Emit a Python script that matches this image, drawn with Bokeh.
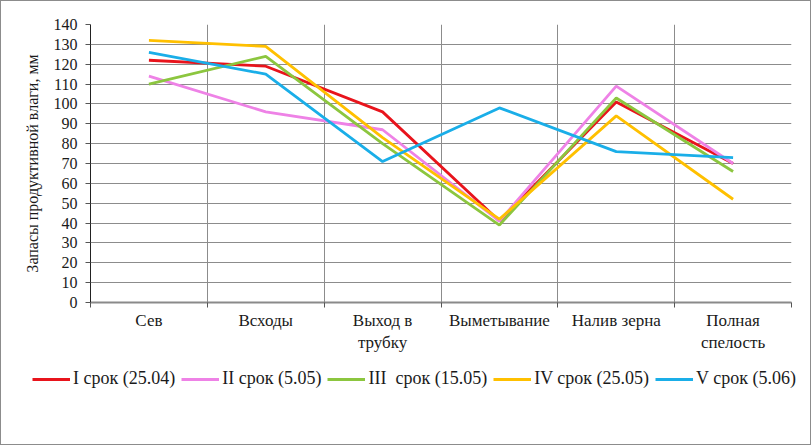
from bokeh.plotting import figure
from bokeh.layouts import column
from bokeh.models import Range1d, FixedTicker, Legend, LegendItem, LinearAxis
from bokeh.embed import file_html
from bokeh.resources import INLINE

categories = ["Сев", "Всходы", "Выход в\nтрубку", "Выметывание", "Налив зерна", "Полная\nспелость"]
series_names = ["I срок (25.04)", "II срок (5.05)", "III  срок (15.05)", "IV срок (25.05)", "V срок (5.06)"]
s1 = [122, 119, 96, 41, 101, 70]
s2 = [114, 96, 87, 41, 109, 70]
s3 = [110, 124, 80, 39, 103, 66]
s4 = [132, 129, 83, 42, 94, 52]
s5 = [126, 115, 71, 98, 76, 73]
y_ticks = list(range(0, 141, 10))
colors = ["#E8141C", "#EE82E6", "#8CC63F", "#FFC000", "#1AAEE8"]

FONT = "Liberation Serif"
TXT = "#1a1a1a"

p = figure(width=809, height=365, output_backend="svg", toolbar_location=None,
           x_range=Range1d(0, len(categories)), y_range=Range1d(0, 140),
           min_border_left=89, min_border_right=19, min_border_top=23, min_border_bottom=64)
p.frame_align = False
p.xaxis.visible = False
p.yaxis.visible = False

xs = [i + 0.5 for i in range(len(categories))]
series = [s1, s2, s3, s4, s5]
for vals, col in zip(series, colors):
    p.line(xs, vals, line_color=col, line_width=2.8)

# x axis: category labels at centres, tick marks at boundaries
xax = LinearAxis(ticker=FixedTicker(ticks=xs, minor_ticks=list(range(len(categories) + 1))))
xax.major_label_overrides = {x: c for x, c in zip(xs, categories)}
xax.major_tick_line_color = None
xax.minor_tick_out = 5
xax.minor_tick_in = 0
xax.minor_tick_line_color = "#555555"
xax.axis_line_color = "#8a8a8a"
xax.axis_line_width = 2
xax.major_label_text_font = FONT
xax.major_label_text_font_size = "17px"
xax.major_label_text_color = TXT
xax.major_label_standoff = 2
p.add_layout(xax, "below")

yax = LinearAxis(ticker=FixedTicker(ticks=y_ticks))
yax.axis_label = "Запасы продуктивной влаги, мм"
yax.axis_label_text_font = FONT
yax.axis_label_text_font_size = "16px"
yax.axis_label_text_font_style = "normal"
yax.axis_label_text_color = TXT
yax.axis_label_standoff = 10
yax.major_label_text_font = FONT
yax.major_label_text_font_size = "16px"
yax.major_label_text_color = TXT
yax.major_label_standoff = 8
yax.major_tick_out = 5
yax.major_tick_in = 0
yax.minor_tick_line_color = None
yax.axis_line_color = "#222222"
yax.major_tick_line_color = "#555555"
p.add_layout(yax, "left")

p.xgrid.ticker = FixedTicker(ticks=list(range(len(categories) + 1)))
p.ygrid.ticker = FixedTicker(ticks=y_ticks)
p.xgrid.grid_line_color = "#8c8c8c"
p.ygrid.grid_line_color = "#8c8c8c"
p.outline_line_color = None

# legend figure
p2 = figure(width=809, height=78, output_backend="svg", toolbar_location=None,
            x_range=Range1d(100, 101), y_range=Range1d(0, 1),
            min_border_left=0, min_border_right=0, min_border_top=0, min_border_bottom=54)
p2.frame_align = False
p2.xaxis.visible = False
p2.yaxis.visible = False
p2.grid.visible = False
p2.outline_line_color = None
rs = [p2.line(xs, vals, line_color=col, line_width=3) for vals, col in zip(series, colors)]
legend = Legend(items=[LegendItem(label=n, renderers=[r]) for n, r in zip(series_names, rs)],
                orientation="horizontal", location=(31, 1),
                label_text_font=FONT, label_text_font_size="18px", label_text_color=TXT,
                glyph_width=38, label_standoff=3, spacing=6, padding=0, margin=0,
                border_line_color=None, background_fill_alpha=0)
p2.add_layout(legend, "center")

layout = column(p, p2, spacing=0, styles={"border": "1px solid #8c8c8c", "box-sizing": "border-box"})

open("out.html", "w").write(file_html(layout, INLINE))
